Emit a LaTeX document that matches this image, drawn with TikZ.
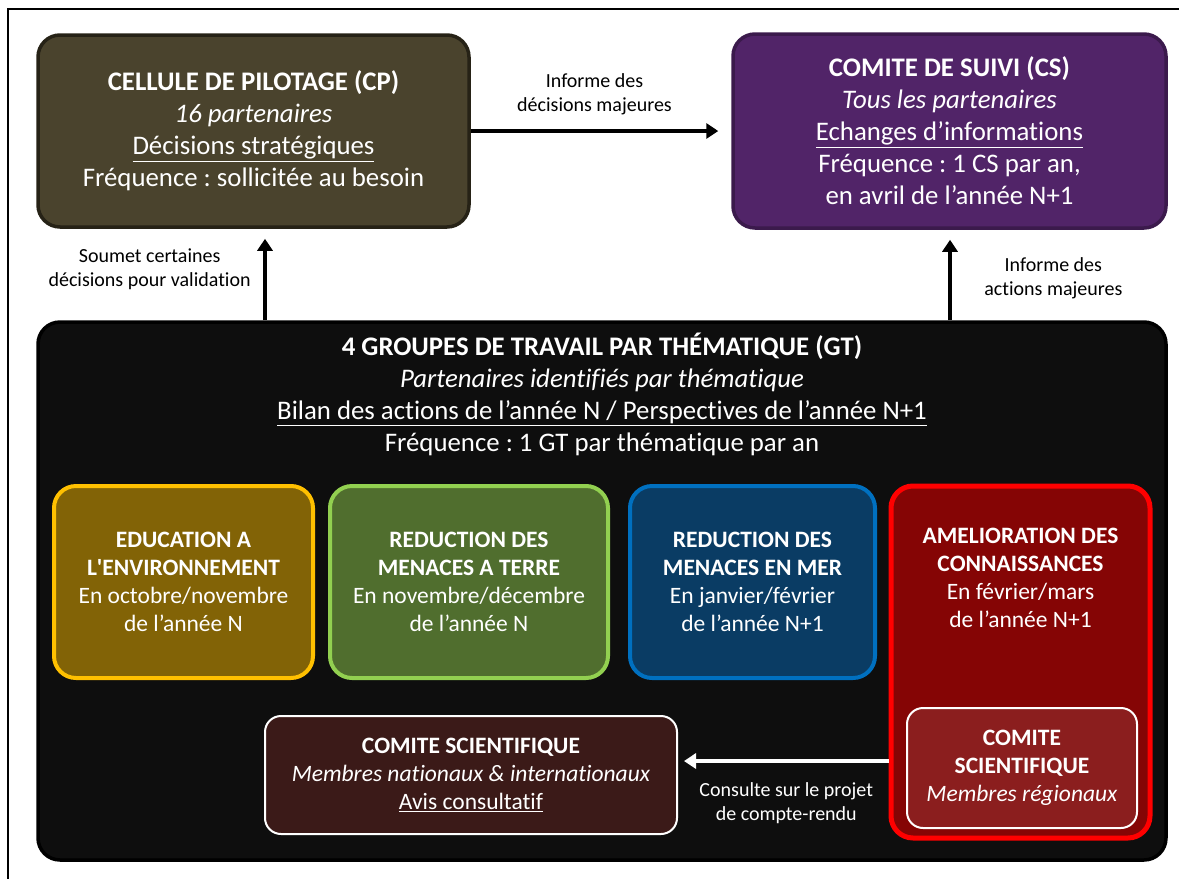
\documentclass[tikz,border=0pt]{standalone}
\usepackage{fontspec}
\setmainfont{Carlito}[Ligatures=NoCommon]
\usetikzlibrary{arrows.meta}
\frenchspacing

\definecolor{cpfill}{RGB}{74,67,45}
\definecolor{cpline}{RGB}{38,34,22}
\definecolor{csfill}{RGB}{81,36,104}
\definecolor{csline}{RGB}{59,26,76}
\definecolor{gtfill}{RGB}{14,14,14}
\definecolor{edufill}{RGB}{130,99,6}
\definecolor{eduline}{RGB}{255,192,0}
\definecolor{terrefill}{RGB}{80,110,46}
\definecolor{terreline}{RGB}{146,208,80}
\definecolor{merfill}{RGB}{10,60,100}
\definecolor{merline}{RGB}{0,112,192}
\definecolor{amelfill}{RGB}{133,5,5}
\definecolor{amelline}{RGB}{255,0,0}
\definecolor{regfill}{RGB}{139,30,30}
\definecolor{natfill}{RGB}{59,26,24}

\begin{document}
\begin{tikzpicture}[x=1pt,y=-1pt,
		box/.style={rounded corners=22pt, line width=3.5pt, align=center, text=white, inner sep=0pt,
			font=\fontsize{26.8}{32}\selectfont},
		gtbox/.style={rounded corners=22pt, line width=4pt, align=center, text=white, inner sep=0pt,
			font=\fontsize{23.5}{28}\selectfont},
		scbox/.style={rounded corners=16pt, line width=2pt, draw=white, align=center, text=white, inner sep=0pt,
			font=\fontsize{23.5}{28}\selectfont},
		lbl/.style={align=center, font=\fontsize{20}{24}\selectfont},
		arr/.style={line width=4pt, -{Triangle[length=12pt,width=15pt]}}]
		\useasboundingbox (0,0) rectangle (1179,879);
		\draw[line width=1.5pt] (1179,9) -- (8,9) -- (8,879);

		\node[box, fill=cpfill, draw=cpline, minimum width=431pt, minimum height=192pt] (cp) at (253.5,131)
			{\textbf{CELLULE DE PILOTAGE (CP)}\\ \textit{16 partenaires}\\ \underline{Décisions stratégiques}\\ Fréquence : sollicitée au besoin};
		\node[box, fill=csfill, draw=csline, minimum width=433pt, minimum height=194pt] (cs) at (949.5,131)
			{\textbf{COMITE DE SUIVI (CS)}\\ \textit{Tous les partenaires}\\ \underline{Echanges d’informations}\\ Fréquence : 1 CS par an,\\ en avril de l’année N+1};

		\node[box, fill=gtfill, draw=black, minimum width=1128pt, minimum height=538pt] (gt) at (602,591) {};
		\node[box, anchor=center] (gttitle) at (602,394.5)
			{\textbf{4 GROUPES DE TRAVAIL PAR THÉMATIQUE (GT)}\\ \textit{Partenaires identifiés par thématique}\\ \underline{Bilan des actions de l’année N / Perspectives de l’année N+1}\\ Fréquence : 1 GT par thématique par an};

		\draw[arr] (cp.east) -- node[lbl, above=11pt] {Informe des\\ décisions majeures} ([xshift=-13pt]cs.west);
		\draw[arr] (gt.north -| 265,0) -- node[lbl, left=9pt, pos=0.63] {Soumet certaines\\ décisions pour validation} ([yshift=-10pt]cp.south -| 265,0);
		\draw[arr] (gt.north -| 950,0) -- node[lbl, right=29pt, pos=0.52] {Informe des\\ actions majeures} ([yshift=-10pt]cs.south -| 950,0);

		\node[gtbox, fill=edufill, draw=eduline, minimum width=259pt, minimum height=192pt] (edu) at (183.5,582)
			{\textbf{EDUCATION A}\\ \textbf{L\textquotesingle ENVIRONNEMENT}\\ En octobre/novembre\\ de l’année N};
		\node[gtbox, fill=terrefill, draw=terreline, minimum width=278pt, minimum height=192pt] (terre) at (469,582)
			{\textbf{REDUCTION DES}\\ \textbf{MENACES A TERRE}\\ En novembre/décembre\\ de l’année N};
		\node[gtbox, fill=merfill, draw=merline, minimum width=245pt, minimum height=192pt] (mer) at (752.5,582)
			{\textbf{REDUCTION DES}\\ \textbf{MENACES EN MER}\\ En janvier/février\\ de l’année N+1};
		\node[gtbox, fill=amelfill, draw=amelline, line width=5pt, minimum width=259pt, minimum height=352pt] (amel) at (1020.5,662) {};
		\node[gtbox] (ameltext) at (1020.5,578)
			{\textbf{AMELIORATION DES}\\ \textbf{CONNAISSANCES}\\ En février/mars\\ de l’année N+1};

		\node[scbox, fill=regfill, minimum width=230pt, minimum height=120pt] (regcs) at (1022,768)
			{\textbf{COMITE}\\ \textbf{SCIENTIFIQUE}\\ \textit{Membres régionaux}};
		\node[scbox, fill=natfill, minimum width=412pt, minimum height=118pt] (natcs) at (471,775)
			{\textbf{COMITE SCIENTIFIQUE}\\ \textit{Membres nationaux \& internationaux}\\ \underline{Avis consultatif}};

		\draw[arr, white] (amel.west |- 0,761) -- node[lbl, text=white, below=16pt] {Consulte sur le projet\\ de compte-rendu} ([xshift=6pt]natcs.east |- 0,761);
\end{tikzpicture}
\end{document}
